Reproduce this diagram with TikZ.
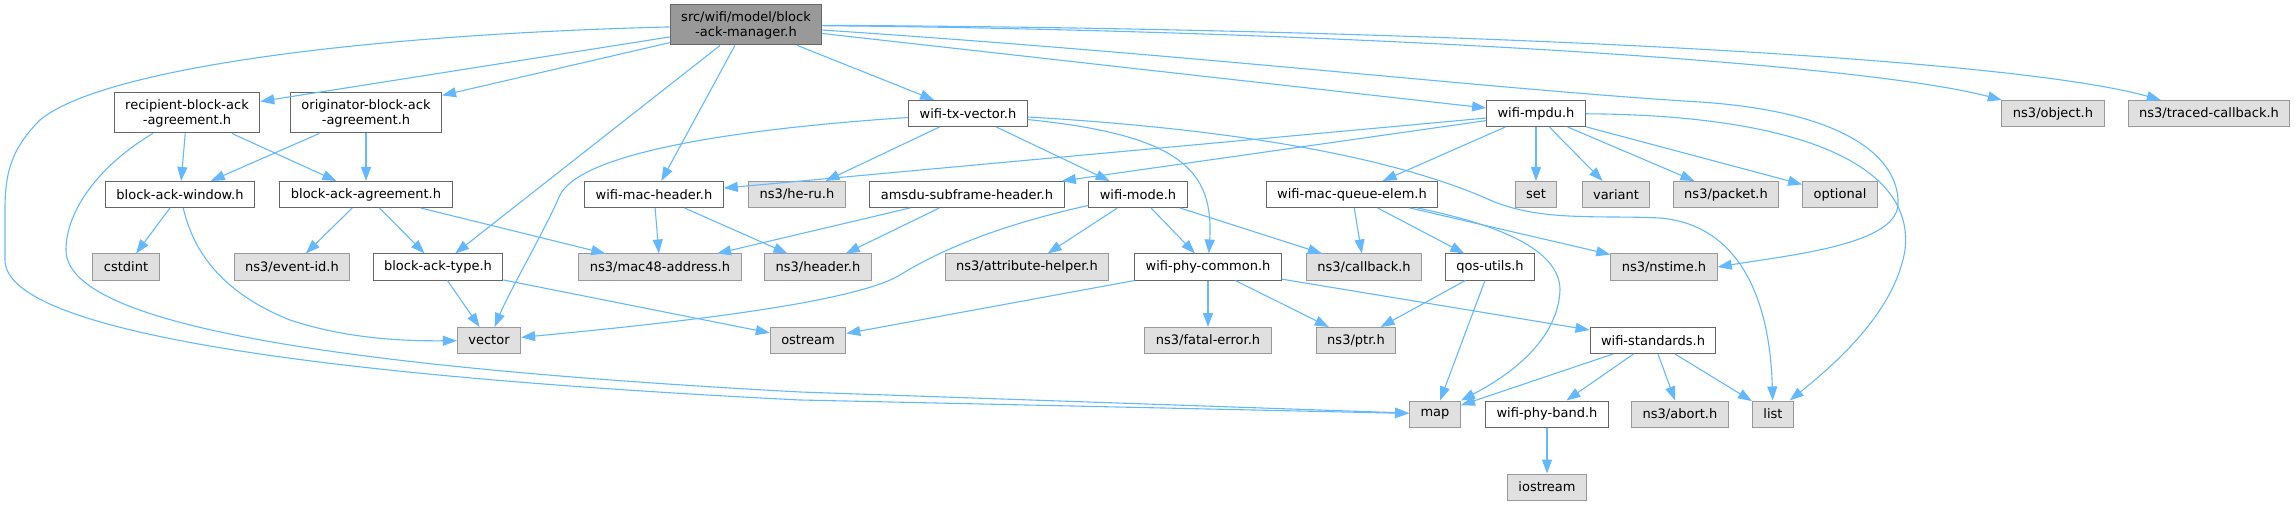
\documentclass[tikz,border=0pt]{standalone}
\usepackage{fontspec}
\setmainfont{DejaVu Sans}
\usetikzlibrary{arrows.meta}
\definecolor{edgeblue}{HTML}{63B8FF}
\definecolor{sysfill}{HTML}{E0E0E0}
\definecolor{sysline}{HTML}{999999}
\definecolor{hdrline}{HTML}{666666}
\tikzset{hbox/.style={draw, line width=1pt, inner xsep=11pt, inner ysep=0pt, minimum height=26pt, font=\fontsize{13}{15}\selectfont, align=center}}
\tikzset{hdr/.style={hbox, draw=hdrline, fill=white}}
\tikzset{sys/.style={hbox, draw=sysline, fill=sysfill}}
\tikzset{hdrroot/.style={hbox, draw=hdrline, fill=sysline, minimum height=40pt}}
\tikzset{arr/.style={edgeblue, line width=1.1pt, -{Triangle[length=14pt,width=10pt]}}}

\begin{document}
\begin{tikzpicture}[x=1pt,y=-1pt]
		\useasboundingbox (0,0) rectangle (2295,505);
		% top rows
		\node[hdrroot] (root) at (746,25) {src/wifi/model/block\\-ack-manager.h};
		\node[hdr, minimum height=40pt] (recip) at (187,113) {recipient-block-ack\\-agreement.h};
		\node[hdr, minimum height=40pt] (orig) at (366,113) {originator-block-ack\\-agreement.h};
		\node[hdr] (txvec) at (968,113.5) {wifi-tx-vector.h};
		\node[hdr] (mpdu) at (1536,113.5) {wifi-mpdu.h};
		\node[sys] (object) at (2053,113.5) {ns3/object.h};
		\node[sys] (traced) at (2209,113.5) {ns3/traced-callback.h};
%
		\node[hdr] (baw) at (180,194.5) {block-ack-window.h};
		\node[hdr] (baa) at (366,194.5) {block-ack-agreement.h};
		\node[hdr] (machdr) at (654,194.5) {wifi-mac-header.h};
		\node[sys] (heru) at (797,194.5) {ns3/he-ru.h};
		\node[hdr] (amsdu) at (967,194.5) {amsdu-subframe-header.h};
		\node[hdr] (mode) at (1138,194.5) {wifi-mode.h};
		\node[hdr] (mqe) at (1352,194.5) {wifi-mac-queue-elem.h};
		\node[sys] (set) at (1536,194.5) {set};
		\node[sys] (variant) at (1616,194.5) {variant};
		\node[sys] (packet) at (1726,194.5) {ns3/packet.h};
		\node[sys] (optional) at (1840,194.5) {optional};
%
		\node[sys] (cstdint) at (126,267) {cstdint};
		\node[sys] (eventid) at (292,267) {ns3/event-id.h};
		\node[hdr] (batype) at (438,267) {block-ack-type.h};
		\node[sys] (mac48) at (660,267) {ns3/mac48-address.h};
		\node[sys] (header) at (818,267) {ns3/header.h};
		\node[sys] (attr) at (1027,267) {ns3/attribute-helper.h};
		\node[hdr] (phycommon) at (1208,267) {wifi-phy-common.h};
		\node[sys] (callback) at (1364,267) {ns3/callback.h};
		\node[hdr] (qos) at (1490,267) {qos-utils.h};
		\node[sys] (nstime) at (1664,267) {ns3/nstime.h};
		% lower rows
		\node[sys] (vector) at (489,340.5) {vector};
		\node[sys] (ostream) at (808,340.5) {ostream};
		\node[sys] (fatal) at (1208,340.5) {ns3/fatal-error.h};
		\node[sys] (ptr) at (1356,340.5) {ns3/ptr.h};
		\node[hdr] (standards) at (1653,340.5) {wifi-standards.h};
		\node[sys] (map) at (1435,414) {map};
		\node[hdr] (phyband) at (1547,414) {wifi-phy-band.h};
		\node[sys] (abort) at (1680,414) {ns3/abort.h};
		\node[sys] (list) at (1773,414) {list};
		\node[sys] (iostream) at (1547,487) {iostream};
%
		\foreach \a/\b in {root/recip, root/orig, root/batype, root/machdr, root/txvec, root/mpdu,
			recip/baw, recip/baa, orig/baw, orig/baa, baw/cstdint, baa/eventid, baa/batype, baa/mac48,
			machdr/mac48, machdr/header, batype/vector, batype/ostream, txvec/heru, txvec/mode,
			mpdu/machdr, mpdu/amsdu, mpdu/mqe, mpdu/set, mpdu/variant, mpdu/packet, mpdu/optional,
			amsdu/mac48, amsdu/header, mode/attr, mode/phycommon, mode/callback,
			mqe/callback, mqe/qos, mqe/nstime, phycommon/ostream, phycommon/fatal, phycommon/ptr,
			phycommon/standards, qos/ptr, qos/map, standards/map, standards/phyband, standards/abort,
			standards/list, phyband/iostream}
			\draw[arr] (\a) -- (\b);
		% curved ones
		\draw[arr] (root) .. controls (350,35) and (100,70) .. (40,120) .. controls (10,150) and (5,175) .. (5,210) -- (5,260) .. controls (5,330) and (300,375) .. (800,400) -- (map);
		\draw[arr] (recip) .. controls (100,165) and (66,210) .. (66,250) .. controls (66,320) and (300,365) .. (800,392) -- (map);
		\draw[arr] (root) .. controls (1300,30) and (1850,60) .. (object);
		\draw[arr] (root) .. controls (1400,28) and (2000,55) .. (traced);
		\draw[arr] (root) .. controls (1200,55) and (1500,90) .. (1700,102) .. controls (1850,112) and (1900,160) .. (1898,205) .. controls (1895,245) and (1790,255) .. (nstime.east);
		\draw[arr] (mpdu) .. controls (1800,115) and (1915,165) .. (1905,250) .. controls (1895,310) and (1840,360) .. (list);
		\draw[arr] (txvec) .. controls (1250,130) and (1400,160) .. (1490,200) .. controls (1540,222) and (1600,215) .. (1660,218) .. controls (1740,225) and (1770,300) .. (list);
		\draw[arr] (txvec) .. controls (720,130) and (580,155) .. (560,195) .. controls (545,230) and (510,290) .. (vector);
		\draw[arr] (txvec) .. controls (1180,135) and (1214,170) .. (phycommon);
		\draw[arr] (mode) .. controls (1000,225) and (940,250) .. (900,275) .. controls (850,305) and (650,325) .. (vector);
		\draw[arr] (baw) .. controls (192,245) and (215,290) .. (290,320) .. controls (350,340) and (410,341) .. (vector);
		\draw[arr] (mqe) .. controls (1500,225) and (1560,250) .. (1560,290) .. controls (1558,340) and (1510,375) .. (map);
	\end{tikzpicture}
\end{document}
